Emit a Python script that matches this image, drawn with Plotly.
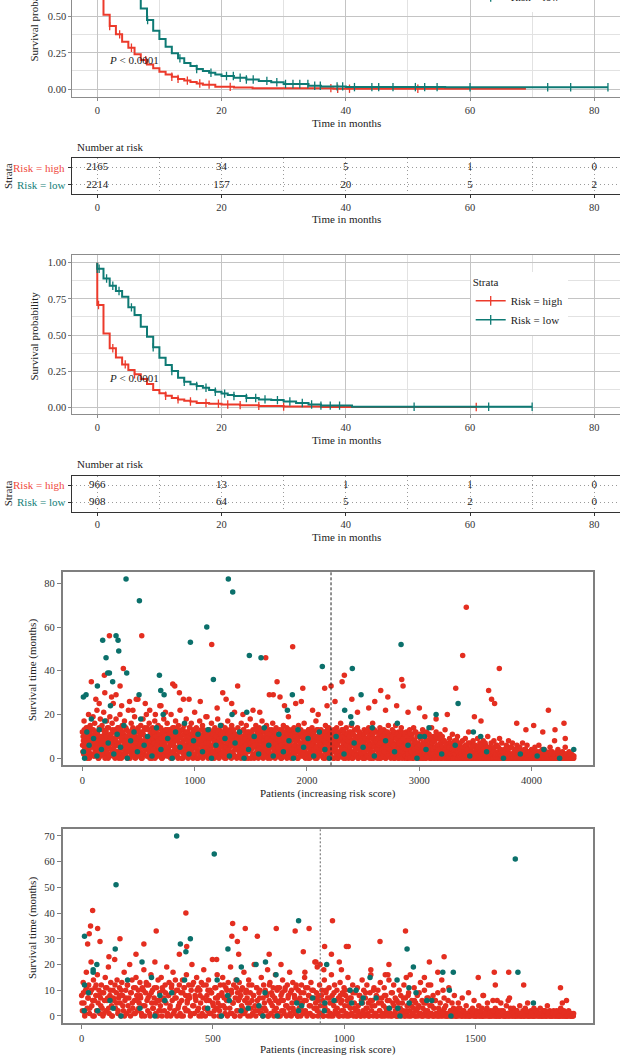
import plotly.graph_objects as go

# ---------------- DATA ----------------
# Kaplan-Meier panel 1 (cohort 1)
km1_high_t = [0, 0, 1, 2, 3, 4, 5, 6, 7, 8, 9, 10, 11, 12, 13, 14, 15, 16, 17, 19, 22, 25, 38, 69]
km1_high_s = [1.0, 0.70, 0.513, 0.435, 0.378, 0.327, 0.285, 0.24, 0.20, 0.17, 0.143, 0.12, 0.10, 0.085, 0.07, 0.058, 0.048, 0.038, 0.03, 0.015, 0.01, 0.006, 0.002, 0.002]
km1_low_t = [0, 0, 1, 2, 3, 4, 5, 6, 7, 8, 9, 10, 11, 12, 13, 14, 15, 16, 17, 18, 19, 20, 22, 24, 26, 28, 30, 34, 36, 40, 56, 82.2]
km1_low_s = [1.0, 0.96, 0.90, 0.85, 0.81, 0.77, 0.70, 0.64, 0.557, 0.477, 0.403, 0.346, 0.292, 0.247, 0.212, 0.18, 0.159, 0.138, 0.125, 0.112, 0.10, 0.09, 0.078, 0.066, 0.056, 0.047, 0.035, 0.023, 0.018, 0.013, 0.012, 0.012]
cens1_high = [2, 3.6, 5.5, 7.8, 12, 13, 14.5, 16.5, 18, 21.4, 37.6, 38.7, 40.6, 51.6]
cens1_low = [8.1, 13.3, 16, 18.3, 20.8, 21.9, 23, 24, 25.1, 27.3, 28.9, 30.3, 31.5, 32.6, 33.9, 35, 35.9,
             38.6, 39.5, 41.4, 44.2, 45.3, 47.6, 51.2, 52.7, 54.7, 60, 72.5, 76.2, 82.2]

# Kaplan-Meier panel 2 (cohort 2)
km2_high_t = [0, 0, 1, 2, 3, 4, 5, 6, 7, 8, 9, 10, 11, 12, 13, 14, 15, 16, 18, 20, 23, 26, 30, 36, 61]
km2_high_s = [1.0, 0.707, 0.511, 0.408, 0.345, 0.297, 0.258, 0.228, 0.196, 0.161, 0.12, 0.097, 0.08, 0.065, 0.055, 0.045, 0.04, 0.03, 0.025, 0.02, 0.015, 0.01, 0.005, 0.002, 0.002]
km2_low_t = [0, 0, 1, 2, 3, 4, 5, 6, 7, 8, 9, 10, 11, 12, 13, 14, 15, 16, 17, 18, 19, 20, 21, 22, 24, 26, 28, 30, 32, 34, 36, 41, 70]
km2_low_s = [1.0, 0.958, 0.891, 0.84, 0.804, 0.764, 0.691, 0.638, 0.557, 0.488, 0.415, 0.343, 0.292, 0.251, 0.205, 0.177, 0.16, 0.148, 0.135, 0.12, 0.108, 0.095, 0.086, 0.078, 0.065, 0.055, 0.05, 0.04, 0.03, 0.02, 0.012, 0.004, 0.004]
cens2_high = [0.2, 2.5, 4.5, 6, 11, 13, 15, 17.5, 19.5, 21, 23, 26, 30, 61]
cens2_low = [0, 0.3, 1.5, 2.5, 3.5, 5.5, 9, 12, 14, 16, 17.5, 19, 20.5, 22, 24, 25.5, 27, 29, 31, 33,
             34.5, 36, 37.5, 39, 51, 63, 70]

# Numbers at risk
risk_times = [0, 20, 40, 60, 80]
risk1_high = [2165, 34, 5, 1, 0]
risk1_low = [2214, 157, 20, 5, 2]
risk2_high = [966, 13, 1, 1, 0]
risk2_low = [908, 64, 5, 2, 0]

# Risk-ordered survival scatter, cohort 1 (4379 patients; 2214 low risk)
n1_low = 2214
band1_step = 5   # survival months (dead) of patients at ranks 0, 5, 10, ...
band1_dead = [
    12, 3, 8, 17, 5, 1, 9, 14, 6, 0, 11, 20, 4, 7, 15, 2, 10, 13, 8, 19, 5, 1, 16, 9, 3,
    7, 22, 11, 4, 0, 13, 8, 18, 2, 6, 15, 10, 3, 21, 9, 12, 5, 1, 17, 7, 14, 0, 10, 6, 19,
    2, 11, 8, 16, 4, 25, 9, 1, 13, 6, 18, 3, 10, 7, 14, 0, 12, 20, 5, 9, 2, 15, 8, 11, 4,
    17, 6, 1, 10, 13, 3, 8, 22, 5, 12, 0, 9, 16, 7, 2, 14, 11, 4, 19, 6, 10, 1, 13, 8, 27,
    5, 12, 9, 3, 15, 0, 7, 11, 18, 2, 6, 14, 10, 4, 20, 8, 1, 13, 5, 16, 9, 3, 11, 7, 0,
    14, 6, 10, 2, 17, 8, 12, 4, 1, 9, 15, 5, 11, 24, 3, 7, 13, 0, 10, 6, 18, 2, 8, 12, 4,
    9, 16, 1, 11, 5, 13, 7, 3, 20, 10, 0, 14, 6, 8, 2, 12, 17, 4, 9, 1, 11, 15, 5, 7, 22,
    3, 10, 13, 6, 0, 8, 15, 2, 11, 5, 18, 9, 4, 12, 7, 1, 14, 10, 3, 16, 6, 8, 0, 13, 5,
    11, 2, 7, 14, 4, 9, 0, 12, 6, 17, 3, 10, 8, 1, 15, 5, 13, 7, 2, 9, 11, 4, 19, 6, 0,
    8, 13, 3, 10, 5, 16, 1, 9, 12, 6, 0, 14, 7, 4, 11, 2, 18, 8, 5, 13, 10, 3, 7, 15, 1,
    6, 12, 9, 2, 14, 4, 0, 11, 7, 17, 3, 10, 5, 13, 8, 1, 15, 6, 12, 2, 9, 21, 4, 11, 7,
    0, 10, 14, 5, 8, 3, 12, 1, 16, 6, 9, 4, 13, 7, 2, 11, 0, 15, 8, 5, 10, 3, 12, 6, 18,
    9, 4, 11, 1, 13, 7, 0, 10, 5, 15, 2, 8, 12, 6, 3, 14, 9, 1, 11, 4, 17, 7, 0, 13, 5,
    12, 3, 8, 15, 6, 1, 10, 4, 13, 9, 0, 11, 7, 2, 16, 5, 12, 8, 3, 10, 14, 6, 1, 9, 4,
    7, 13, 2, 10, 5, 0, 12, 8, 15, 3, 11, 6, 1, 9, 14, 4, 7, 19, 2, 12, 5, 10, 0, 8, 13,
    4, 9, 14, 1, 11, 6, 3, 12, 8, 0, 15, 5, 10, 2, 13, 7, 4, 11, 1, 9, 16, 6, 3, 12, 8,
    10, 2, 7, 13, 5, 0, 11, 8, 4, 14, 1, 9, 12, 6, 3, 10, 17, 5, 0, 8, 13, 2, 11, 7, 4,
    13, 6, 1, 10, 4, 12, 8, 0, 15, 3, 9, 11, 5, 2, 14, 7, 10, 1, 12, 6, 4, 9, 0, 13, 8,
    5, 11, 3, 14, 7, 0, 10, 2, 12, 8, 16, 4, 9, 1, 13, 6, 11, 3, 8, 0, 14, 5, 10, 2, 7,
    12, 4, 9, 1, 15, 6, 0, 11, 8, 3, 13, 5, 10, 2, 7, 14, 0, 9, 12, 4, 6, 1, 11, 8, 3,
    10, 0, 13, 6, 2, 9, 12, 4, 8, 1, 14, 7, 3, 11, 5, 0, 10, 16, 2, 8, 13, 6, 1, 9, 4,
    7, 12, 3, 10, 0, 14, 5, 8, 2, 11, 6, 1, 13, 9, 4, 0, 12, 7, 3, 10, 15, 2, 8, 5, 11,
    1, 9, 13, 4, 7, 0, 11, 3, 15, 6, 10, 2, 8, 12, 0, 5, 9, 1, 14, 4, 7, 11, 3, 6, 0,
    8, 2, 12, 5, 0, 10, 3, 7, 13, 1, 9, 4, 11, 0, 6, 14, 2, 8, 5, 12, 1, 10, 3, 7, 0,
    6, 11, 1, 9, 4, 0, 13, 7, 2, 10, 5, 0, 8, 12, 3, 6, 1, 11, 4, 9, 0, 7, 14, 2, 5,
    10, 3, 0, 8, 5, 12, 1, 6, 0, 9, 4, 2, 11, 7, 0, 3, 10, 5, 1, 8, 0, 13, 4, 6, 2,
    0, 7, 3, 1, 9, 5, 0, 2, 6, 11, 1, 4, 0, 8, 3, 0, 5, 2, 10, 1, 0, 6, 3, 7, 0,
    4, 1, 8, 0, 2, 5, 0, 9, 3, 1, 6, 0, 2, 12, 4, 0, 7, 1, 3, 0, 5, 8, 1, 0, 2,
    6, 0, 3, 1, 9, 0, 4, 2, 7, 0, 1, 5, 0, 3, 8, 1, 0, 2, 6, 0, 4, 1, 10, 0, 3,
    0, 5, 1, 7, 0, 2, 4, 0, 8, 1, 3, 0, 6, 1, 0, 2, 5, 0, 9, 1, 0, 3, 7, 0, 2,
    1, 0, 4, 2, 0, 6, 1, 0, 3, 8, 0, 1, 5, 0, 2, 0, 7, 1, 0, 3, 0, 4, 1, 0, 6,
    0, 2, 1, 0, 5, 0, 1, 3, 0, 7, 0, 2, 0, 1, 4, 0, 0, 6, 1, 0, 2, 0, 3, 1, 0,
    4, 0, 1, 0, 2, 0, 5, 1, 0, 0, 3, 0, 1, 6, 0, 2, 0, 1, 0, 4, 0, 0, 2, 1, 0,
    0, 3, 0, 1, 0, 0, 2, 0, 5, 1, 0, 0, 3, 0, 1, 0, 8, 0, 2, 0, 0, 1, 4, 0, 0,
    1, 0, 2, 0, 0, 3, 0, 1, 0, 0, 5, 0, 2, 0, 1, 0, 0, 3, 0, 1, 0, 2, 0, 0, 1,
    0]
band1b_offset = 2   # survival months (dead) of patients at ranks 2, 7, 12, ...
band1b_dead = [
    6, 10, 2, 13, 8, 4, 11, 1, 7, 14, 3, 9, 0, 12, 5, 8, 2, 10, 6, 13, 1, 11, 4, 7, 9,
    3, 12, 6, 0, 9, 14, 5, 1, 10, 7, 2, 13, 8, 4, 11, 0, 6, 12, 3, 9, 5, 14, 1, 8, 10,
    11, 4, 7, 13, 1, 9, 5, 12, 0, 8, 3, 10, 6, 14, 2, 7, 11, 4, 13, 0, 9, 5, 12, 1, 6,
    8, 2, 14, 5, 10, 0, 7, 12, 3, 9, 6, 1, 11, 4, 13, 8, 2, 10, 5, 0, 12, 7, 3, 9, 14,
    1, 10, 6, 3, 12, 8, 0, 5, 11, 2, 13, 7, 4, 9, 1, 14, 6, 10, 3, 8, 0, 11, 5, 12, 2,
    9, 4, 12, 7, 0, 10, 3, 13, 6, 1, 8, 11, 5, 2, 14, 9, 0, 7, 12, 4, 10, 1, 6, 13, 3,
    5, 13, 1, 8, 11, 3, 9, 0, 12, 6, 2, 10, 7, 14, 4, 1, 11, 8, 5, 13, 0, 9, 3, 12, 6,
    10, 0, 7, 4, 13, 2, 11, 6, 1, 9, 12, 3, 8, 0, 10, 5, 14, 2, 7, 11, 4, 1, 12, 6, 9,
    2, 11, 5, 9, 0, 12, 7, 3, 10, 1, 8, 13, 4, 6, 0, 11, 9, 2, 12, 5, 7, 1, 10, 3, 13,
    7, 1, 12, 4, 9, 6, 0, 11, 3, 8, 13, 2, 10, 5, 1, 7, 12, 4, 0, 9, 6, 11, 2, 8, 5,
    12, 3, 8, 0, 10, 5, 13, 1, 7, 11, 4, 9, 2, 12, 6, 0, 10, 3, 8, 13, 1, 5, 11, 7, 4,
    6, 9, 1, 11, 3, 12, 7, 0, 10, 4, 8, 2, 13, 5, 9, 1, 11, 6, 3, 12, 0, 8, 4, 10, 7,
    0, 12, 5, 8, 2, 10, 6, 13, 1, 9, 3, 11, 7, 0, 12, 4, 8, 2, 10, 5, 1, 13, 6, 9, 3,
    10, 4, 1, 9, 12, 0, 7, 3, 11, 5, 8, 1, 13, 6, 2, 10, 4, 12, 0, 7, 9, 3, 11, 5, 8,
    3, 8, 11, 0, 6, 13, 2, 10, 4, 9, 1, 12, 5, 7, 0, 11, 3, 8, 13, 2, 6, 10, 1, 9, 4,
    11, 2, 6, 10, 1, 8, 12, 4, 0, 9, 5, 13, 3, 7, 11, 1, 10, 6, 2, 12, 4, 8, 0, 11, 7,
    5, 10, 0, 13, 7, 3, 9, 1, 12, 6, 2, 11, 4, 8, 0, 10, 5, 13, 3, 9, 1, 7, 12, 2, 6,
    9, 1, 11, 5, 0, 8, 12, 3, 7, 10, 2, 13, 6, 0, 9, 4, 11, 1, 8, 5, 12, 3, 10, 0, 7,
    4, 12, 2, 9, 6, 0, 11, 3, 8, 1, 10, 5, 13, 2, 7, 0, 12, 4, 9, 1, 6, 11, 3, 8, 0,
    10, 5, 1, 12, 3, 8, 0, 11, 6, 2, 9, 4, 13, 1, 7, 10, 0, 5, 12, 3, 8, 2, 11, 6, 0,
    7, 11, 3, 0, 9, 5, 12, 1, 8, 4, 10, 0, 6, 13, 2, 9, 3, 11, 0, 7, 5, 12, 1, 8, 4,
    0, 9, 6, 11, 2, 7, 0, 12, 4, 10, 1, 8, 3, 11, 5, 0, 9, 2, 12, 6, 1, 10, 4, 7, 0,
    8, 3, 10, 1, 6, 12, 0, 5, 9, 2, 11, 4, 0, 7, 10, 3, 1, 8, 12, 0, 5, 9, 2, 6, 11,
    1, 7, 4, 0, 10, 2, 8, 5, 0, 11, 3, 6, 9, 1, 0, 8, 4, 12, 2, 7, 0, 5, 10, 3, 1,
    6, 0, 9, 3, 1, 11, 5, 0, 7, 2, 10, 4, 0, 8, 1, 6, 3, 11, 0, 5, 9, 2, 0, 7, 4,
    2, 8, 0, 5, 1, 10, 3, 0, 6, 4, 1, 9, 0, 2, 7, 0, 5, 3, 1, 8, 0, 4, 2, 6, 0,
    3, 0, 1, 5, 0, 2, 7, 0, 4, 1, 0, 3, 6, 0, 2, 1, 8, 0, 3, 0, 5, 1, 0, 4, 2,
    0, 1, 5, 0, 3, 0, 2, 6, 0, 1, 4, 0, 7, 2, 0, 1, 3, 0, 5, 0, 2, 1, 0, 6, 3,
    1, 0, 4, 2, 0, 5, 1, 0, 3, 0, 6, 2, 0, 1, 4, 0, 2, 7, 0, 1, 0, 3, 5, 0, 1,
    2, 0, 1, 0, 4, 1, 0, 3, 5, 0, 1, 2, 0, 6, 0, 1, 3, 0, 2, 0, 4, 1, 0, 0, 3,
    0, 1, 0, 3, 0, 2, 0, 1, 4, 0, 0, 2, 1, 0, 5, 0, 1, 0, 2, 3, 0, 1, 0, 4, 0,
    1, 0, 2, 0, 1, 0, 3, 0, 0, 2, 1, 0, 4, 0, 1, 0, 2, 0, 0, 3, 1, 0, 2, 0, 1,
    0, 2, 0, 0, 1, 3, 0, 1, 0, 2, 0, 0, 1, 0, 3, 1, 0, 2, 0, 0, 1, 0, 4, 0, 2,
    1, 0, 0, 2, 0, 1, 0, 0, 3, 0, 1, 2, 0, 0, 1, 0, 2, 0, 1, 0, 0, 3, 0, 1, 0,
    0, 0, 1, 0, 2, 0, 1, 0, 0, 1, 0, 2, 0, 1, 0, 0, 1, 0, 2, 0, 1, 0, 0, 1, 0,
    1]
dead1_rank = [241, 529, 1152, 1633, 1873, 365, 196, 80, 805, 823, 336, 1383, 1734, 864, 1963, 1250, 1665,
              3419, 3387, 3713, 2333, 2313, 2844, 2856, 2158, 2215, 3325, 2657, 2720, 2604, 3618, 3644,
              3671, 2179, 3001, 2799, 4150, 3491, 3868, 4289, 4019, 4209,
              120, 150, 200, 260, 300, 350, 420, 450, 480, 560, 600, 650, 700, 740, 900, 950, 1000,
              1050, 1100, 1200, 1280, 1330, 1430, 1520, 1580, 1700, 1760, 1800, 1900, 1950, 2050,
              2100, 2250, 2400, 2450, 2550, 2700, 2900, 3050, 3150, 3250, 3550, 3950, 4100, 4300]
dead1_months = [56, 56, 52, 46, 51, 41, 38, 35, 34, 33, 33, 33, 35, 30, 32, 30, 29,
                69, 47, 41, 38, 35, 36, 33, 32, 33, 32, 31, 28, 26, 31, 27,
                25, 24, 23, 24, 22, 19, 16, 16, 15, 13,
                27, 25, 30, 28, 29, 24, 26, 22, 27, 25, 22, 20, 24, 21, 27, 27, 21,
                26, 19, 23, 27, 25, 20, 22, 21, 29, 28, 24, 25, 26, 22,
                20, 26, 27, 21, 23, 22, 21, 19, 18, 20, 17, 13, 12, 9]
alive1_rank = [389, 508, 1300, 1339, 1108, 300, 318, 181, 324, 211, 962, 1487, 1591, 395, 226, 241, 686,
               1167, 270, 134, 698, 728, 1870, 505, 9, 33, 1826, 1464, 1333, 2838, 2137, 2404, 2482,
               3346, 2336, 3150, 2390, 2400, 4376, 4110, 3482, 3547, 2805, 2582, 3087, 3046, 3007,
               10, 20, 40, 60, 80, 100, 130, 150, 170, 200, 230, 250, 280, 310, 340, 370, 400, 430,
               460, 490, 520, 550, 580, 620, 660, 700, 720, 760, 800, 830, 870, 910, 950, 990, 1030,
               1070, 1120, 1150, 1190, 1230, 1270, 1310, 1360, 1400, 1440, 1480, 1530, 1570, 1620,
               1660, 1700, 1750, 1790, 1840, 1880, 1920, 1970, 2010, 2060, 2110, 2160, 2200, 2260,
               2330, 2420, 2500, 2600, 2700, 2780, 2900, 2980, 3060, 3200, 3320, 3450, 3600, 3750,
               3900, 4050, 4250]
alive1_months = [82, 72, 82, 76, 60, 56, 54, 54, 49, 46, 53, 47, 46, 39, 39, 39, 38,
                 36, 35, 33, 31, 29, 29, 29, 28, 29, 22, 21, 20, 52, 42, 41, 29,
                 25, 22, 20, 19, 16, 4, 4, 12, 10, 16, 14, 14, 10, 10,
                 3, 0, 12, 6, 18, 9, 1, 13, 4, 17, 7, 24, 2, 11, 5, 15, 0, 8,
                 12, 3, 18, 6, 10, 1, 14, 4, 20, 9, 0, 12, 5, 16, 2, 8, 11,
                 3, 13, 0, 6, 15, 9, 1, 7, 12, 0, 4, 10, 2, 14,
                 6, 1, 11, 3, 8, 0, 13, 5, 9, 1, 12, 4, 0, 10,
                 2, 7, 5, 1, 8, 3, 6, 0, 4, 2, 6, 1, 3, 0,
                 2, 1, 0]

# Risk-ordered survival scatter, cohort 2 (1874 patients; 908 low risk)
n2_low = 908
band2_step = 3   # survival months (dead) of patients at ranks 0, 3, 6, ...
band2_dead = [
    8, 2, 13, 5, 0, 10, 17, 3, 7, 12, 1, 9, 21, 4, 6, 14, 0, 11, 8, 2, 16, 5, 10, 1, 7,
    12, 3, 0, 9, 6, 15, 2, 11, 7, 19, 1, 8, 13, 4, 0, 10, 6, 22, 3, 9, 14, 1, 7, 11, 5,
    0, 13, 8, 2, 17, 6, 10, 1, 12, 4, 7, 20, 0, 9, 14, 3, 11, 6, 1, 15, 8, 2, 10, 5, 13,
    7, 1, 11, 4, 18, 0, 9, 13, 6, 2, 12, 8, 0, 16, 5, 10, 3, 7, 21, 1, 11, 6, 14, 2, 9,
    4, 15, 0, 10, 7, 2, 12, 5, 19, 1, 8, 13, 3, 0, 11, 6, 17, 9, 2, 14, 7, 0, 10, 4, 12,
    1, 9, 6, 14, 0, 11, 3, 8, 16, 5, 2, 12, 7, 0, 10, 20, 4, 13, 1, 8, 6, 15, 2, 11, 0,
    10, 5, 13, 1, 7, 18, 3, 0, 12, 8, 2, 14, 6, 10, 1, 9, 22, 4, 0, 11, 7, 3, 16, 5, 8,
    2, 12, 0, 9, 15, 4, 7, 1, 11, 6, 0, 13, 8, 3, 19, 10, 1, 5, 12, 0, 7, 14, 2, 9, 6,
    13, 0, 8, 4, 11, 1, 17, 6, 2, 10, 7, 0, 14, 5, 9, 3, 12, 1, 8, 20, 4, 0, 11, 6, 2,
    9, 7, 1, 15, 3, 0, 12, 5, 10, 2, 8, 18, 0, 6, 13, 1, 9, 4, 11, 0, 7, 16, 3, 10, 1,
    5, 11, 0, 8, 2, 14, 6, 1, 10, 4, 0, 12, 7, 3, 17, 9, 0, 5, 13, 2, 8, 1, 11, 6, 0,
    10, 3, 7, 0, 12, 5, 1, 9, 15, 2, 6, 0, 11, 8, 4, 1, 13, 7, 0, 10, 3, 21, 5, 9, 2,
    0, 8, 12, 4, 1, 10, 6, 0, 14, 3, 9, 2, 7, 0, 11, 5, 1, 16, 8, 0, 4, 12, 2, 6, 10,
    1, 7, 0, 13, 5, 2, 9, 0, 11, 4, 8, 1, 6, 15, 0, 10, 3, 7, 1, 12, 0, 5, 9, 2, 0,
    11, 4, 1, 8, 0, 6, 14, 2, 10, 0, 7, 3, 12, 1, 5, 0, 9, 18, 2, 6, 0, 11, 4, 1, 8,
    0, 10, 5, 2, 13, 0, 7, 1, 4, 11, 0, 8, 2, 6, 0, 14, 3, 1, 9, 0, 5, 12, 1, 7, 0,
    6, 0, 3, 10, 1, 8, 0, 5, 2, 12, 0, 7, 1, 4, 0, 9, 2, 16, 0, 6, 1, 3, 11, 0, 5,
    2, 8, 0, 4, 1, 13, 0, 6, 3, 0, 10, 1, 5, 0, 2, 7, 0, 4, 12, 1, 0, 8, 3, 0, 6,
    1, 0, 9, 3, 0, 5, 1, 14, 0, 2, 7, 0, 4, 1, 0, 6, 11, 0, 2, 1, 5, 0, 3, 8, 0,
    2, 0, 1, 5, 0, 3, 1, 0, 7, 0, 2, 1, 0, 4, 0, 1, 9, 0, 2, 0, 1, 3, 0, 6, 1,
    0, 2, 0, 1, 4, 0, 1, 0, 3, 0, 8, 1, 0, 2, 0, 5, 1, 0, 0, 2, 0, 1, 6, 0, 1,
    3, 0, 1, 0, 2, 0, 0, 5, 1, 0, 2, 0, 1, 0, 4, 0, 1, 0, 7, 0, 2, 1, 0, 3, 0,
    1, 0, 2, 0, 0, 1, 4, 0, 1, 0, 2, 0, 0, 3, 1, 0, 5, 0, 1, 0, 2, 0, 1, 0, 3,
    0, 1, 0, 2, 0, 1, 0, 3, 0, 0, 1, 2, 0, 1, 0, 0, 4, 1, 0, 2, 0, 1, 0, 0, 2,
    1, 0, 0, 2, 0, 1, 0, 0, 3, 0, 1, 0, 2, 0, 0, 1, 0, 0, 2, 1, 0, 0, 1, 0, 0]
band2b_offset = 1
band2b_step = 6   # survival months (dead) of patients at ranks 1, 7, 13, ...
band2b_dead = [
    5, 9, 1, 11, 7, 3, 10, 0, 6, 12, 2, 8, 4, 9, 1, 11, 6, 3, 10, 0, 7, 12, 5, 2, 8,
    10, 4, 0, 7, 12, 2, 9, 5, 1, 11, 6, 3, 8, 0, 10, 4, 12, 7, 1, 9, 3, 11, 5, 0, 6,
    2, 11, 6, 9, 0, 8, 4, 12, 1, 7, 10, 3, 5, 0, 9, 11, 2, 6, 8, 1, 12, 4, 7, 10, 3,
    8, 0, 12, 3, 6, 10, 1, 9, 5, 2, 11, 7, 0, 4, 8, 12, 3, 10, 6, 1, 9, 5, 0, 11, 2,
    7, 10, 3, 1, 9, 5, 12, 0, 6, 8, 2, 11, 4, 10, 1, 7, 3, 9, 0, 12, 5, 8, 2, 6, 11,
    0, 6, 9, 2, 11, 4, 8, 1, 10, 3, 7, 12, 0, 5, 9, 2, 6, 11, 1, 8, 4, 10, 0, 7, 3,
    6, 1, 8, 0, 4, 10, 2, 7, 0, 5, 9, 1, 3, 0, 8, 6, 2, 10, 0, 4, 7, 1, 9, 3, 0,
    2, 8, 0, 5, 1, 9, 3, 0, 6, 4, 10, 1, 0, 7, 2, 5, 0, 8, 3, 1, 6, 0, 9, 4, 2,
    0, 5, 3, 1, 7, 0, 2, 8, 0, 4, 1, 6, 0, 3, 9, 1, 0, 5, 2, 7, 0, 1, 4, 0, 6,
    1, 0, 2, 0, 1, 3, 0, 0, 1, 2, 0, 1, 0, 0, 3, 1, 0, 2, 0, 1, 0, 0, 2, 1, 0,
    0, 1, 0, 2, 0, 0, 1, 3, 0, 1, 0, 2, 0, 0, 1, 0, 2, 1, 0, 0, 1, 0, 3, 0, 1,
    0, 2, 1, 0, 0, 1, 0, 2, 0, 0, 1, 0, 0, 2, 1, 0, 1, 0, 0, 2, 0, 1, 0, 0, 1,
    0, 1, 0, 0, 2, 0, 1, 0, 0, 1, 0, 0, 1]
dead2_rank = [42, 34, 29, 61, 23, 70, 146, 284, 237, 397, 207, 104, 575, 572, 593, 623, 669, 741, 813,
              866, 844, 372, 400, 514, 598, 714, 759, 850,
              955, 1233, 1136, 1015, 925, 951, 1380, 1324, 981, 1170, 892, 989, 922, 1510, 1571, 1626,
              1575, 1683, 1823, 1846, 1830, 1528, 1624, 1582, 1376, 1356, 1320, 1156, 1166, 1101,
              1236, 1305, 1008, 908, 897]
dead2_months = [41, 35, 32, 34, 28, 29, 30, 33, 28, 40, 24, 23, 36, 31, 29, 34, 31, 34, 33,
                34, 25, 24, 27, 22, 24, 24, 20, 17,
                37, 33, 29, 27, 27, 24, 23, 21, 21, 20, 21, 18, 18, 15, 17, 17,
                12, 12, 11, 6, 5, 8, 6, 6, 10, 17, 12, 16, 16, 16,
                15, 15, 27, 20, 19]
alive2_rank = [362, 505, 131, 11, 128, 376, 414, 397, 557, 826, 58, 44, 44, 230, 700, 664, 608, 591,
               740, 392, 11, 26, 175, 516, 266, 10, 61, 108, 120, 150, 222, 279, 298, 317, 343, 480,
               532, 556, 562, 607, 634, 675, 690, 698, 745, 819, 838, 826,
               1651, 1239, 1263, 1375, 1415, 1661, 933, 1098, 1201, 1400, 1022, 1045, 1246, 1273,
               880, 961, 1028, 1066, 1121, 1171, 1204, 1212, 1247, 1314, 1333, 1406, 1720, 926,
               924, 1072]
alive2_months = [70, 63, 51, 31, 26, 28, 30, 25, 26, 37, 20, 17, 18, 21, 21, 20, 19, 14,
                 16, 14, 12, 9, 14, 14, 15, 2, 2, 6, 3, 0, 3, 0, 8, 6, 9, 3,
                 0, 8, 6, 2, 3, 4, 0, 9, 0, 5, 4, 2,
                 61, 26, 19, 17, 17, 17, 20, 15, 14, 10, 10, 10, 11, 9,
                 7, 6, 5, 5, 7, 3, 3, 0, 5, 6, 6, 0, 5, 5,
                 2, 7]

# ---------------- STYLE ----------------
W, H = 620, 1056
FONT = "Liberation Serif, Times New Roman, serif"
RED = "#EC3A2B"
TEAL = "#0E7A74"
RED_LBL = "#EF4A40"
TEAL_LBL = "#138079"
RED_PT = "#E42E20"
TEAL_PT = "#0B706B"
TXT = "#333333"
GRID_MAJ = "#C4C4C4"
GRID_MIN = "#E2E2E2"
BORDER = "#8C8C8C"


def yp(p):  # pixel row -> paper y
    return 1 - p / H


def xp(p):  # pixel column -> paper x
    return p / W


def step_at(ts, ss, t):
    v = ss[0]
    for ti, si in zip(ts, ss):
        if ti <= t:
            v = si
        else:
            break
    return v


fig = go.Figure()


def add_km(xa, ya, t_hi, s_hi, t_lo, s_lo, c_hi, c_lo, legend):
    for t, s, c, col, name in [(t_hi, s_hi, c_hi, RED, "Risk = high"), (t_lo, s_lo, c_lo, TEAL, "Risk = low")]:
        fig.add_trace(go.Scatter(x=t, y=s, mode="lines", line=dict(color=col, width=2, shape="hv"),
                                 xaxis=xa, yaxis=ya, showlegend=False, hoverinfo="skip"))
        fig.add_trace(go.Scatter(x=c, y=[step_at(t, s, ci) for ci in c], mode="markers",
                                 marker=dict(symbol="line-ns", size=6, color=col, line=dict(color=col, width=1.3)),
                                 xaxis=xa, yaxis=ya, showlegend=False, hoverinfo="skip"))
        fig.add_trace(go.Scatter(x=[None], y=[None], mode="lines+markers", name=name,
                                 line=dict(color=col, width=1.5),
                                 marker=dict(symbol="line-ns", size=7, color=col, line=dict(color=col, width=1.3)),
                                 xaxis=xa, yaxis=ya, legend=legend, showlegend=True))


add_km("x", "y", km1_high_t, km1_high_s, km1_low_t, km1_low_s, cens1_high, cens1_low, "legend2")
add_km("x3", "y3", km2_high_t, km2_high_s, km2_low_t, km2_low_s, cens2_high, cens2_low, "legend")


def add_table(xa, ya, hi, lo):
    for vals, row in [(hi, 2), (lo, 1)]:
        fig.add_trace(go.Scatter(x=risk_times, y=[row] * len(risk_times), text=[str(v) for v in vals],
                                 mode="text", textfont=dict(family=FONT, size=11, color="#222222"),
                                 xaxis=xa, yaxis=ya, showlegend=False, hoverinfo="skip"))


add_table("x2", "y2", risk1_high, risk1_low)
add_table("x4", "y4", risk2_high, risk2_low)


def pts(xa, ya, xs, ys, col):
    fig.add_trace(go.Scatter(x=xs, y=ys, mode="markers", marker=dict(size=5.5, color=col),
                             xaxis=xa, yaxis=ya, showlegend=False, hoverinfo="skip"))


pts("x5", "y5", [i * band1_step for i in range(len(band1_dead))], band1_dead, RED_PT)
pts("x5", "y5", [band1b_offset + i * band1_step for i in range(len(band1b_dead))], band1b_dead, RED_PT)
pts("x5", "y5", dead1_rank, dead1_months, RED_PT)
pts("x5", "y5", alive1_rank, alive1_months, TEAL_PT)

pts("x6", "y6", [i * band2_step for i in range(len(band2_dead))], band2_dead, RED_PT)
pts("x6", "y6", [band2b_offset + i * band2b_step for i in range(len(band2b_dead))], band2b_dead, RED_PT)
pts("x6", "y6", dead2_rank, dead2_months, RED_PT)
pts("x6", "y6", alive2_rank, alive2_months, TEAL_PT)

tickfont = dict(family=FONT, size=10.5, color=TXT)

km_x = dict(range=[-4.02, 84.14], domain=[xp(72.3), 1], tickvals=[0, 20, 40, 60, 80],
            showgrid=True, gridcolor=GRID_MAJ, gridwidth=1,
            minor=dict(dtick=10, tick0=0, showgrid=True, gridcolor=GRID_MIN, gridwidth=1),
            showline=True, mirror=True, linecolor=BORDER, linewidth=1,
            ticks="outside", ticklen=3, tickcolor=BORDER, tickfont=tickfont, zeroline=False)
km_y = dict(tickvals=[0, 0.25, 0.5, 0.75, 1.0], ticktext=["0.00", "0.25", "0.50", "0.75", "1.00"],
            showgrid=True, gridcolor=GRID_MAJ, gridwidth=1,
            minor=dict(dtick=0.125, tick0=0, showgrid=True, gridcolor=GRID_MIN, gridwidth=1),
            showline=True, mirror=True, linecolor=BORDER, linewidth=1,
            ticks="outside", ticklen=3, tickcolor=BORDER, tickfont=tickfont, zeroline=False)
DOT = "1px,3px"
tb_x = dict(range=[-4.02, 84.14], domain=[xp(72.3), 1], tickvals=[0, 20, 40, 60, 80],
            showgrid=True, gridcolor="#9A9A9A", griddash=DOT, gridwidth=1,
            minor=dict(dtick=10, tick0=0, showgrid=True, gridcolor="#9A9A9A", griddash=DOT),
            showline=True, mirror=True, linecolor="#333333", linewidth=1,
            ticks="outside", ticklen=3, tickcolor="#333333", tickfont=tickfont, zeroline=False)
tb_y = dict(range=[0.45, 2.55], tickvals=[1, 2], ticktext=["", ""],
            showgrid=True, gridcolor="#9A9A9A", griddash=DOT, gridwidth=1,
            showline=True, mirror=True, linecolor="#333333", linewidth=1,
            ticks="outside", ticklen=3, tickcolor="#333333", zeroline=False)
sc_common = dict(showgrid=False, showline=True, mirror=True, linecolor="#7F7F7F", linewidth=1.5,
                 ticks="outside", ticklen=4, tickcolor="#7F7F7F", tickfont=tickfont, zeroline=False)

legend_style = dict(title=dict(text="Strata", font=dict(family=FONT, size=11, color="#222")),
                    xanchor="left", bgcolor="white", font=dict(family=FONT, size=11, color="#222"),
                    itemwidth=30, tracegroupgap=0)

fig.update_layout(
    width=W, height=H, margin=dict(l=0, r=0, t=0, b=0, autoexpand=False),
    paper_bgcolor="white", plot_bgcolor="white",
    font=dict(family=FONT, size=11, color=TXT),
    xaxis=dict(km_x, anchor="y"),
    yaxis=dict(km_y, anchor="x", domain=[yp(97), 1], range=[-0.0553, 0.6155]),
    xaxis2=dict(tb_x, anchor="y2"),
    yaxis2=dict(tb_y, anchor="x2", domain=[yp(194.3), yp(158.3)]),
    xaxis3=dict(km_x, anchor="y3"),
    yaxis3=dict(km_y, anchor="x3", domain=[yp(414), yp(255)], range=[-0.046, 1.053]),
    xaxis4=dict(tb_x, anchor="y4"),
    yaxis4=dict(tb_y, anchor="x4", domain=[yp(511.7), yp(475.7)]),
    xaxis5=dict(sc_common, anchor="y5", domain=[xp(62.7), xp(593.3)], range=[-175, 4550],
                tickvals=[0, 1000, 2000, 3000, 4000]),
    yaxis5=dict(sc_common, anchor="x5", domain=[yp(765.3), yp(571.7)], range=[-3.2, 85.3],
                tickvals=[0, 20, 40, 60, 80]),
    xaxis6=dict(sc_common, anchor="y6", domain=[xp(62.7), xp(593.3)], range=[-72, 1948],
                tickvals=[0, 500, 1000, 1500]),
    yaxis6=dict(sc_common, anchor="x6", domain=[yp(1023.3), yp(829)], range=[-2.85, 72.7],
                tickvals=[0, 10, 20, 30, 40, 50, 60, 70]),
    legend=dict(legend_style, x=xp(470.7), y=yp(272), yanchor="top"),
    legend2=dict(legend_style, x=xp(470.7), y=yp(12), yanchor="bottom"),
    showlegend=True,
)

# dashed cut-off lines between low- and high-risk patients
fig.add_shape(type="line", xref="x5", yref="y5 domain", x0=n1_low + 0.5, x1=n1_low + 0.5, y0=0, y1=1,
              line=dict(color="#222", width=1, dash="3px,2px"))
fig.add_shape(type="line", xref="x6", yref="y6 domain", x0=n2_low + 0.5, x1=n2_low + 0.5, y0=0, y1=1,
              line=dict(color="#666", width=1, dash="2px,2px"))

ann = []


def title_ann(text, x, y, angle=0, size=11, xanchor="center", color="#222"):
    ann.append(dict(text=text, x=xp(x), y=yp(y), xref="paper", yref="paper", showarrow=False,
                    textangle=angle, xanchor=xanchor, yanchor="middle",
                    font=dict(family=FONT, size=size, color=color)))


title_ann("Survival probability", 33.5, 17, angle=-90)
title_ann("Time in months", 346, 123)
title_ann("Number at risk", 75, 146.7, xanchor="left")
title_ann("Strata", 8, 176, angle=-90)
title_ann("Risk = high", 67, 167.7, xanchor="right", color=RED_LBL)
title_ann("Risk = low", 67, 184.6, xanchor="right", color=TEAL_LBL)
title_ann("Time in months", 346, 219)
title_ann("Survival probability", 34.3, 336.3, angle=-90)
title_ann("Time in months", 346, 439.5)
title_ann("Number at risk", 75, 464.3, xanchor="left")
title_ann("Strata", 8, 493.3, angle=-90)
title_ann("Risk = high", 67, 485, xanchor="right", color=RED_LBL)
title_ann("Risk = low", 67, 502, xanchor="right", color=TEAL_LBL)
title_ann("Time in months", 346, 537)
title_ann("Survival time (months)", 32, 670, angle=-90)
title_ann("Patients (increasing risk score)", 328, 793.3)
title_ann("Survival time (months)", 32, 928, angle=-90)
title_ann("Patients (increasing risk score)", 328, 1049.3)

for xa, ya in [("x", "y"), ("x3", "y3")]:
    ann.append(dict(text="<i>P</i> < 0.0001", x=5.9, y=0.2, xref=xa, yref=ya, showarrow=False,
                    xanchor="center", yanchor="middle", font=dict(family=FONT, size=11, color="#222")))

fig.update_layout(annotations=ann)
fig.write_html("out.html", config={"displayModeBar": False},
               post_script="document.body.style.margin='0';document.body.style.overflow='hidden';")
